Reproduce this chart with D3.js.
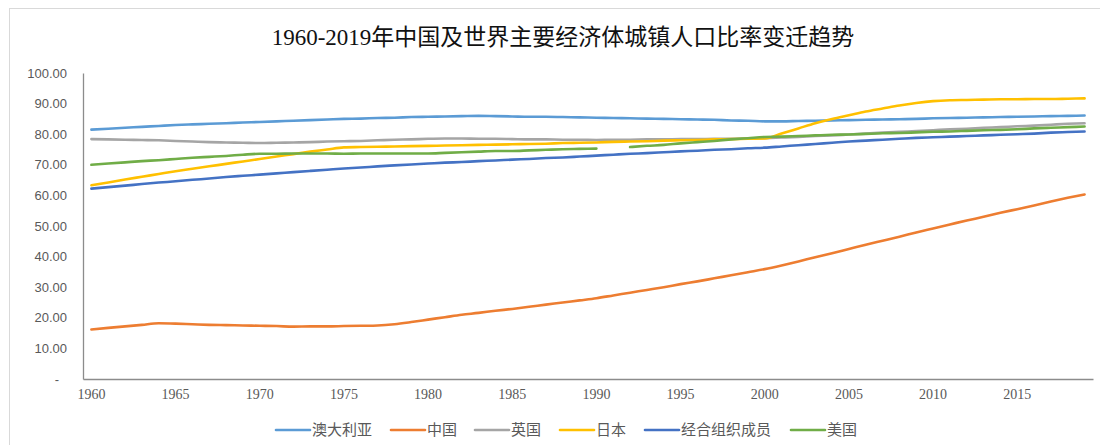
<!DOCTYPE html>
<html>
<head>
<meta charset="utf-8">
<script src="https://cdn.jsdelivr.net/npm/d3@7"></script>
<style>
  html, body { margin: 0; padding: 0; background: #fff; }
  svg { display: block; }
</style>
</head>
<body>
<svg id="chart" width="1100" height="445"></svg>
<script>
const title = "1960-2019年中国及世界主要经济体城镇人口比率变迁趋势";
const years = d3.range(1960, 2020);
const xTickLabels = ["1960","1965","1970","1975","1980","1985","1990","1995","2000","2005","2010","2015"];
const yTicks = [0,10,20,30,40,50,60,70,80,90,100];
const seriesNames = ["澳大利亚","中国","英国","日本","经合组织成员","美国"];
const seriesColors = ["#5B9BD5","#ED7D31","#A5A5A5","#FFC000","#4472C4","#70AD47"];

const australia = [
  81.5, 81.8, 82.1, 82.4, 82.7,
  83.0, 83.2, 83.4, 83.6, 83.8,
  84.0, 84.2, 84.4, 84.6, 84.8,
  85.0, 85.1, 85.3, 85.4, 85.6,
  85.7, 85.8, 85.9, 86.0, 85.9,
  85.8, 85.7, 85.7, 85.6, 85.5,
  85.4, 85.3, 85.2, 85.1, 85.0,
  84.9, 84.8, 84.7, 84.5, 84.4,
  84.2, 84.2, 84.3, 84.4, 84.5,
  84.6, 84.7, 84.8, 84.9, 85.0,
  85.2, 85.3, 85.4, 85.5, 85.6,
  85.7, 85.8, 85.9, 86.0, 86.1
];
const china = [
  16.2, 16.7, 17.2, 17.7, 18.2,
  18.1, 17.9, 17.7, 17.6, 17.5,
  17.4, 17.3, 17.1, 17.2, 17.2,
  17.3, 17.4, 17.5, 17.9, 18.6,
  19.4, 20.2, 21.0, 21.6, 22.3,
  22.9, 23.6, 24.3, 25.0, 25.7,
  26.4, 27.3, 28.2, 29.1, 30.0,
  31.0, 31.9, 32.9, 33.9, 34.9,
  35.9, 37.1, 38.4, 39.8, 41.1,
  42.5, 43.9, 45.2, 46.5, 47.9,
  49.2, 50.5, 51.8, 53.0, 54.3,
  55.5, 56.7, 58.0, 59.2, 60.3
];
const uk = [
  78.4, 78.3, 78.2, 78.1, 78.0,
  77.8, 77.6, 77.4, 77.3, 77.2,
  77.1, 77.2, 77.3, 77.4, 77.6,
  77.7, 77.8, 78.0, 78.2, 78.3,
  78.5, 78.6, 78.6, 78.5, 78.5,
  78.4, 78.3, 78.3, 78.2, 78.2,
  78.1, 78.2, 78.2, 78.3, 78.3,
  78.4, 78.4, 78.5, 78.5, 78.6,
  78.7, 78.9, 79.1, 79.4, 79.6,
  79.9, 80.2, 80.5, 80.8, 81.0,
  81.3, 81.6, 81.8, 82.1, 82.3,
  82.6, 82.8, 83.1, 83.4, 83.6
];
const japan = [
  63.3, 64.2, 65.2, 66.1, 67.0,
  67.9, 68.7, 69.5, 70.3, 71.1,
  71.9, 72.7, 73.5, 74.3, 75.0,
  75.7, 75.8, 75.9, 76.0, 76.1,
  76.2, 76.3, 76.4, 76.5, 76.6,
  76.7, 76.8, 76.9, 77.1, 77.2,
  77.3, 77.5, 77.6, 77.7, 77.9,
  78.0, 78.1, 78.3, 78.4, 78.5,
  78.6, 80.2, 81.9, 83.6, 85.0,
  86.2, 87.4, 88.4, 89.4, 90.2,
  90.8, 91.1, 91.2, 91.3, 91.4,
  91.4, 91.5, 91.5, 91.6, 91.7
];
const oecd = [
  62.2, 62.7, 63.2, 63.7, 64.2,
  64.6, 65.1, 65.5, 66.0, 66.4,
  66.8, 67.2, 67.6, 68.0, 68.4,
  68.8, 69.1, 69.5, 69.8, 70.1,
  70.4, 70.7, 70.9, 71.2, 71.4,
  71.7, 71.9, 72.2, 72.4, 72.7,
  73.0, 73.3, 73.6, 73.8, 74.1,
  74.4, 74.6, 74.9, 75.1, 75.4,
  75.6, 76.0, 76.4, 76.8, 77.2,
  77.6, 77.9, 78.2, 78.5, 78.8,
  79.0, 79.2, 79.4, 79.6, 79.8,
  80.0, 80.2, 80.5, 80.7, 80.9
];
const usa = [
  70.0, 70.4, 70.8, 71.2, 71.5,
  71.9, 72.3, 72.6, 72.9, 73.3,
  73.6, 73.6, 73.7, 73.7, 73.7,
  73.6, 73.7, 73.7, 73.7, 73.7,
  73.7, 73.9, 74.1, 74.3, 74.5,
  74.5, 74.7, 74.9, 75.1, 75.2,
  75.3, null, 75.8, 76.2, 76.5,
  77.0, 77.4, 77.8, 78.3, 78.7,
  79.1, 79.2, 79.4, 79.6, 79.8,
  79.9, 80.1, 80.3, 80.4, 80.6,
  80.8, 80.9, 81.1, 81.3, 81.4,
  81.6, 81.9, 82.1, 82.3, 82.5
];
const seriesValues = [australia, china, uk, japan, oecd, usa];

const svg = d3.select("#chart");

// outer frame
svg.append("rect")
  .attr("x", 9.5).attr("y", 8.5).attr("width", 1110).attr("height", 460)
  .attr("fill", "none").attr("stroke", "#d9d9d9").attr("stroke-width", 1);

const plot = { left: 83, right: 1093, top: 73, bottom: 379 };

const x = d3.scaleBand().domain(years).range([plot.left, plot.right]);
const xc = yr => x(yr) + x.bandwidth() / 2;
const y = d3.scaleLinear().domain([0, 100]).range([plot.bottom, plot.top]);

// title
svg.append("text")
  .attr("x", 563).attr("y", 45)
  .attr("text-anchor", "middle")
  .attr("font-family", "'Liberation Serif', 'Noto Sans CJK SC', serif")
  .attr("font-size", 23)
  .attr("fill", "#111")
  .text(title);

// y axis
const yAxis = d3.axisLeft(y).tickValues(yTicks).tickSize(0).tickPadding(16)
  .tickFormat(d => d === 0 ? "-" : d3.format(".2f")(d));
const gy = svg.append("g").attr("transform", `translate(${plot.left},0)`).call(yAxis);
gy.select(".domain").attr("stroke", "#8c8c8c").attr("stroke-width", 1.3);
gy.selectAll("text")
  .attr("font-family", "'Liberation Sans', Arial, sans-serif")
  .attr("font-size", 13)
  .attr("fill", "#595959");
gy.selectAll(".tick").filter(d => d === 0).select("text").attr("dx", -8);

// x axis
const xAxis = d3.axisBottom(x)
  .tickValues(years.filter(yr => xTickLabels.includes(String(yr))))
  .tickSize(0).tickPadding(10)
  .tickFormat(d => String(d));
const gx = svg.append("g").attr("transform", `translate(0,${plot.bottom})`).call(xAxis);
gx.select(".domain").attr("stroke", "#8c8c8c").attr("stroke-width", 1.3);
gx.selectAll("text")
  .attr("font-family", "'Liberation Serif', 'Times New Roman', serif")
  .attr("font-size", 14)
  .attr("fill", "#595959");

// lines
const line = d3.line()
  .defined(d => d.v !== null)
  .x(d => xc(d.year))
  .y(d => y(d.v))
  .curve(d3.curveMonotoneX);

seriesNames.forEach((name, i) => {
  const data = years.map((yr, j) => ({ year: yr, v: seriesValues[i][j] }));
  svg.append("path")
    .datum(data)
    .attr("fill", "none")
    .attr("stroke", seriesColors[i])
    .attr("stroke-width", 2.6)
    .attr("stroke-linecap", "round")
    .attr("stroke-linejoin", "round")
    .attr("d", line);
});

// legend
const legendX = [276, 391, 475, 560, 645, 791];
const lg = svg.append("g");
seriesNames.forEach((name, i) => {
  const g = lg.append("g").attr("transform", `translate(${legendX[i]},430)`);
  g.append("line").attr("x1", 0).attr("x2", 34).attr("y1", 0).attr("y2", 0)
    .attr("stroke", seriesColors[i]).attr("stroke-width", 2.6).attr("stroke-linecap", "round");
  g.append("text").attr("x", 36).attr("y", 0).attr("dy", "0.35em")
    .attr("font-family", "'Noto Sans CJK SC', sans-serif")
    .attr("font-size", 15)
    .attr("fill", "#595959")
    .text(name);
});
</script>
</body>
</html>
